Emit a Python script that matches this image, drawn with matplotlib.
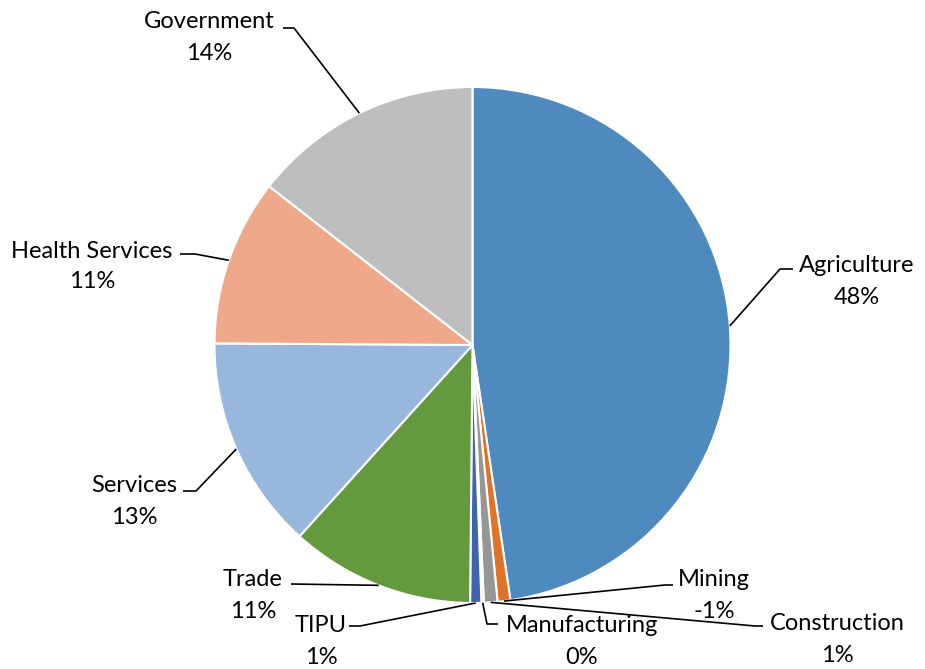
import numpy as np
import matplotlib.pyplot as plt

# data (shares, clockwise from 12 o'clock)
sectors = ['Agriculture', 'Mining', 'Construction', 'Manufacturing', 'TIPU',
           'Trade', 'Services', 'Health Services', 'Government']
shares = [47.65, 0.8, 0.85, 0.15, 0.7, 11.55, 13.4, 10.45, 14.45]
pct_labels = ['48%', '-1%', '1%', '0%', '1%', '11%', '13%', '11%', '14%']

colors = ['#4F8ABE', '#E07327', '#969696', '#FFC000', '#3D64AF',
          '#649A3E', '#97B7DD', '#F0A88A', '#BEBEBE']

# label layout in image pixels (x centre, y of name, y of percent), elbow, line end
label_pos = {
    'Agriculture':     ((857, 265, 297), (780, 269), (793, 269)),
    'Mining':          ((714, 580, 612), (665, 585), (673, 585)),
    'Construction':    ((837, 623, 655), (755, 626), (763, 626)),
    'Manufacturing':   ((582, 626, 658), (487, 624), (498, 624)),
    'TIPU':            ((321, 626, 658), (360, 626), (349, 626)),
    'Trade':           ((253, 579, 611), (291, 584), (291, 584)),
    'Services':        ((134, 486, 518), (196, 491), (183, 491)),
    'Health Services': ((92, 251, 282), (195, 254), (180, 254)),
    'Government':      ((209, 22, 53), (294, 28), (283, 28)),
}

W, H = 925, 669
cx, cy, r = 472.5, H - 345, 258

fig = plt.figure(figsize=(W / 100, H / 100), dpi=100)
ax = fig.add_axes([0, 0, 1, 1])
ax.pie(shares, colors=colors, startangle=90, counterclock=False,
       center=(cx, cy), radius=r,
       wedgeprops=dict(edgecolor='white', linewidth=1.5))
ax.set_xlim(0, W)
ax.set_ylim(0, H)
ax.set_aspect('equal')
ax.axis('off')

font = dict(family=['Lato', 'DejaVu Sans'], fontsize=17, color='black')

# mid angle of each wedge (clockwise from top)
cum = np.cumsum([0] + shares)
mids = (cum[:-1] + cum[1:]) / 2 / sum(shares) * 2 * np.pi

for name, pct, mid in zip(sectors, pct_labels, mids):
    (tx, ty1, ty2), elbow, end = label_pos[name]
    px, py = cx + r * np.sin(mid), cy + r * np.cos(mid)
    ax.plot([px, elbow[0], end[0]], [py, H - elbow[1], H - end[1]],
            color='black', linewidth=1.2, solid_capstyle='butt')
    ax.text(tx, H - ty1, name, ha='center', va='center', **font)
    ax.text(tx, H - ty2, pct, ha='center', va='center', **font)

fig.savefig('out.png', dpi=100)
